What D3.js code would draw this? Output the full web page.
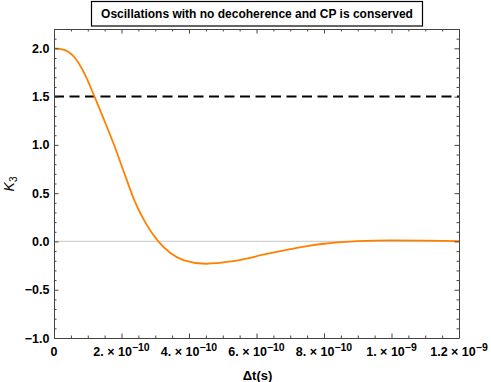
<!DOCTYPE html>
<html>
<head>
<meta charset="utf-8">
<script src="https://cdn.jsdelivr.net/npm/d3@7"></script>
<style>
    body { margin: 0; background: #fff; }
    svg { display: block; font-family: "Liberation Sans", Arial, sans-serif; }
</style>
</head>
<body>
<div id="view"></div>
<script>
// values
var titleText = 'Oscillations with no decoherence and CP is conserved';
var xLabel = 'Δt(s)';
var times = [0, 0.3e-10, 0.6e-10, 0.9e-10, 1.2e-10, 1.5e-10, 1.8e-10, 2.1e-10,
    2.4e-10, 2.7e-10, 3.09e-10, 3.44e-10, 3.83e-10, 4.5e-10, 5.3e-10, 6.3e-10,
    7.0e-10, 7.5e-10, 8.0e-10, 8.5e-10, 9.0e-10, 1.0e-9, 1.1e-9, 1.2e-9];
var k3 = [2.0, 1.985, 1.91, 1.74, 1.50, 1.245, 0.98, 0.69,
    0.41, 0.20, 0.0, -0.117, -0.193, -0.231, -0.205, -0.13,
    -0.08, -0.048, -0.024, -0.007, 0.004, 0.01, 0.008, 0.004];
var refLevel = 1.5;
var xTicks = [0, 2e-10, 4e-10, 6e-10, 8e-10, 1e-9, 1.2e-9];
var xTickText = [['0', ''], ['2. × 10', '−10'], ['4. × 10', '−10'], ['6. × 10', '−10'],
    ['8. × 10', '−10'], ['1. × 10', '−9'], ['1.2 × 10', '−9']];
var yTicks = [-1.0, -0.5, 0.0, 0.5, 1.0, 1.5, 2.0];

var W = 491, H = 382;
var m = {left: 54, right: 459, top: 29, bottom: 338};

var svg = d3.select('#view').append('svg')
    .attr('width', W)
    .attr('height', H);

var x = d3.scaleLinear().domain([0, 1.2e-9]).range([m.left, m.right]);
var y = d3.scaleLinear().domain([-1, 2.2]).range([m.bottom, m.top]);

var frameColor = '#444';

// zero line
svg.append('line')
    .attr('x1', m.left).attr('x2', m.right)
    .attr('y1', y(0)).attr('y2', y(0))
    .attr('stroke', '#d0d0d0')
    .attr('stroke-width', 1.2);

// dashed reference line
svg.append('line')
    .attr('x1', m.left).attr('x2', m.right)
    .attr('y1', y(refLevel)).attr('y2', y(refLevel))
    .attr('stroke', '#000')
    .attr('stroke-width', 2)
    .attr('stroke-dasharray', '10,5.5');

// curve
var pts = times.map((t, i) => ({x: t, y: k3[i]}));
var line = d3.line()
    .x(d => x(d.x))
    .y(d => y(d.y))
    .curve(d3.curveMonotoneX);
svg.append('path')
    .datum(pts)
    .attr('fill', 'none')
    .attr('stroke', '#ff8000')
    .attr('stroke-width', 1.8)
    .attr('d', line);

// frame with inward ticks
var minorX = d3.range(0, 1.2e-9 + 1e-12, 5e-11);
var minorY = d3.range(-1, 2.2 + 1e-9, 0.1);

function isMajorY(v) {
    return Math.abs(v * 2 - Math.round(v * 2)) < 1e-6;
}
function isMajorX(v) {
    return Math.abs(v / 2e-10 - Math.round(v / 2e-10)) < 1e-6;
}

var axes = [
    {axis: d3.axisBottom(x), pos: `translate(0,${m.bottom})`, ticks: minorX, major: isMajorX, dir: [0, -1]},
    {axis: d3.axisTop(x), pos: `translate(0,${m.top})`, ticks: minorX, major: isMajorX, dir: [0, 1]},
    {axis: d3.axisLeft(y), pos: `translate(${m.left},0)`, ticks: minorY, major: isMajorY, dir: [1, 0]},
    {axis: d3.axisRight(y), pos: `translate(${m.right},0)`, ticks: minorY, major: isMajorY, dir: [-1, 0]},
];
axes.forEach(a => {
    var g = svg.append('g')
        .attr('transform', a.pos)
        .call(a.axis.tickValues(a.ticks).tickFormat('').tickSizeOuter(0).tickSize(0));
    g.select('.domain').attr('stroke', frameColor).attr('stroke-width', 1);
    g.selectAll('.tick line')
        .attr('stroke', frameColor)
        .attr('x2', d => a.dir[0] * (a.major(d) ? 4.5 : 2.5))
        .attr('y2', d => a.dir[1] * (a.major(d) ? 4.5 : 2.5));
});

// y tick labels
svg.append('g').selectAll('text')
    .data(yTicks)
    .enter().append('text')
    .attr('x', m.left - 4.5)
    .attr('y', d => y(d) + 4.5)
    .attr('text-anchor', 'end')
    .attr('font-size', 12.5)
    .attr('font-weight', 'bold')
    .text(d => d.toFixed(1).replace('-', '−'));

// x tick labels
var xt = svg.append('g').selectAll('text')
    .data(xTicks)
    .enter().append('text')
    .attr('x', d => x(d))
    .attr('y', 355.5)
    .attr('text-anchor', 'middle')
    .attr('font-size', 12.5)
    .attr('font-weight', 'bold');
xt.append('tspan').text((d, i) => xTickText[i][0]);
xt.append('tspan')
    .attr('dy', -5)
    .attr('font-size', 10.5)
    .text((d, i) => xTickText[i][1]);

// axis titles
svg.append('text')
    .attr('x', (m.left + m.right) / 2 + 1)
    .attr('y', 380)
    .attr('text-anchor', 'middle')
    .attr('font-size', 13)
    .attr('font-weight', 'bold')
    .text(xLabel);

var yl = svg.append('text')
    .attr('transform', 'translate(14,184) rotate(-90)')
    .attr('text-anchor', 'middle')
    .attr('font-size', 14);
yl.append('tspan').attr('font-style', 'italic').text('K');
yl.append('tspan').attr('font-size', 10).attr('dy', 3).text('3');

// title box
svg.append('rect')
    .attr('x', 91.5).attr('y', 1.5)
    .attr('width', 331).attr('height', 24.5)
    .attr('fill', '#fff')
    .attr('stroke', '#000')
    .attr('stroke-width', 1.2);
svg.append('text')
    .attr('x', 257)
    .attr('y', 18)
    .attr('text-anchor', 'middle')
    .attr('font-size', 12)
    .attr('font-weight', 'bold')
    .text(titleText);
</script>
</body>
</html>
